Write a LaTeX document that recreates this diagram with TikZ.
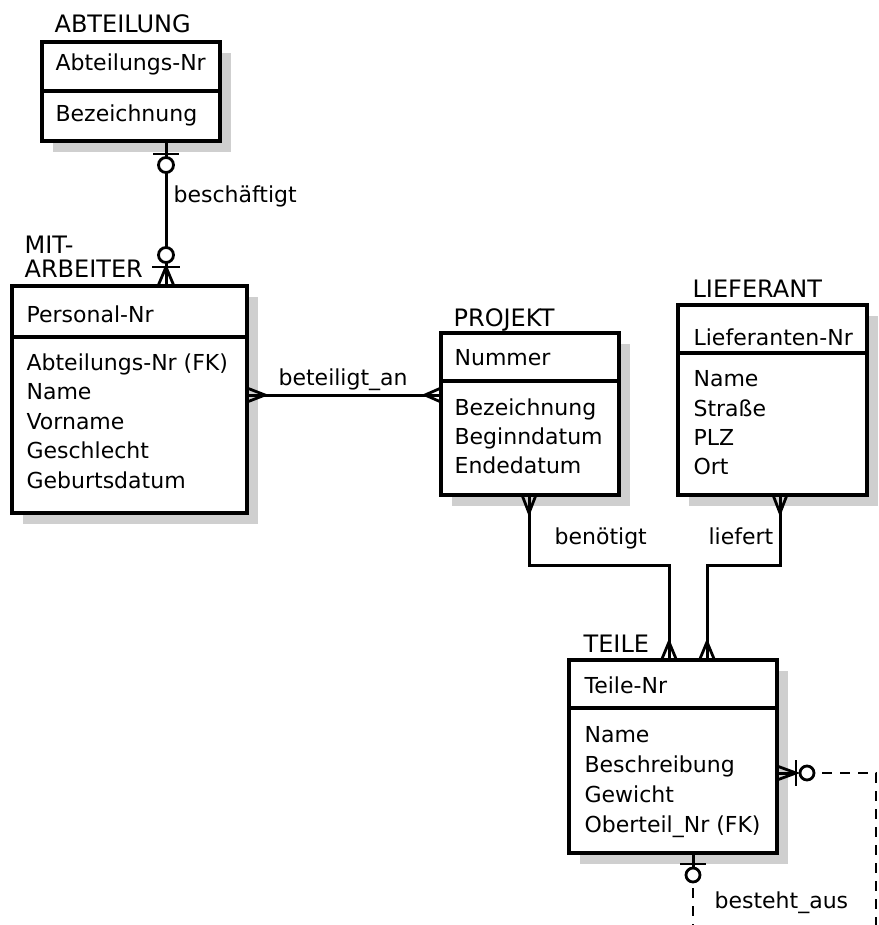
\documentclass[tikz,border=0pt]{standalone}
\usepackage{fontspec}
\setmainfont{DejaVu Sans}
\usetikzlibrary{calc,shadows}
\definecolor{shadowc}{gray}{0.81}
\begin{document}
\begin{tikzpicture}[x=1pt,y=-1pt,line width=3.2pt,
  ent/.style={draw,fill=white,inner sep=0pt,outer sep=0pt,anchor=north west,
    drop shadow={shadow xshift=11pt,shadow yshift=-11pt,fill=shadowc,opacity=1}},
  txt/.style={inner sep=0pt,anchor=base west,font=\fontsize{22}{26}\selectfont},
  ttl/.style={inner sep=0pt,anchor=base west,font=\fontsize{24}{26}\selectfont},
  rel/.style={line width=3pt},
  crow/.style={line width=2.8pt},
  opt/.style={draw,fill=white,line width=2.8pt},
  dsh/.style={line width=2.8pt,dash pattern=on 10pt off 8pt}]
\useasboundingbox (0,0) rectangle (878,925);

% ABTEILUNG
\node[ent,minimum width=178pt,minimum height=99pt] (abt) at (42,42) {};
\draw ($(abt.north west)+(0,49)$) -- ($(abt.north east)+(0,49)$);
\node[ttl] (abtT) at (53,33) {ABTEILUNG};
\node[txt] (abtK) at (54,71) {Abteilungs-Nr};
\node[txt] (abtA) at (54,122) {Bezeichnung};

% MITARBEITER
\node[ent,minimum width=235pt,minimum height=227pt] (mit) at (12,286) {};
\draw ($(mit.north west)+(0,51)$) -- ($(mit.north east)+(0,51)$);
\node[ttl] (mitT1) at (23,253) {MIT-};
\node[ttl] (mitT2) at (23,277) {ARBEITER};
\node[txt] (mitK) at (25,322) {Personal-Nr};
\foreach \t/\yy [count=\i] in {Abteilungs-Nr (FK)/370,Name/399.5,Vorname/429,Geschlecht/458.5,Geburtsdatum/488}
  \node[txt] (mitA\i) at (25,\yy) {\t};

% PROJEKT
\node[ent,minimum width=178pt,minimum height=162pt] (proj) at (441,333) {};
\draw ($(proj.north west)+(0,48)$) -- ($(proj.north east)+(0,48)$);
\node[ttl] (projT) at (452,326) {PROJEKT};
\node[txt] (projK) at (453,365) {Nummer};
\foreach \t/\yy [count=\i] in {Bezeichnung/415,Beginndatum/444,Endedatum/473}
  \node[txt] (projA\i) at (453,\yy) {\t};

% LIEFERANT
\node[ent,minimum width=189pt,minimum height=190pt] (lief) at (678,305) {};
\draw ($(lief.north west)+(0,48)$) -- ($(lief.north east)+(0,48)$);
\node[ttl] (liefT) at (691,297) {LIEFERANT};
\node[txt] (liefK) at (692,345) {Lieferanten-Nr};
\foreach \t/\yy [count=\i] in {Name/386,Straße/416,PLZ/445,Ort/474}
  \node[txt] (liefA\i) at (692,\yy) {\t};

% TEILE
\node[ent,minimum width=208pt,minimum height=193pt] (teile) at (569,660) {};
\draw ($(teile.north west)+(0,48)$) -- ($(teile.north east)+(0,48)$);
\node[ttl] (teileT) at (582,652) {TEILE};
\node[txt] (teileK) at (583,693) {Teile-Nr};
\foreach \t/\yy [count=\i] in {Name/742,Beschreibung/772,Gewicht/802,Oberteil\_Nr (FK)/832}
  \node[txt] (teileA\i) at (583,\yy) {\t};

% beschaeftigt
\coordinate (b1) at ($(abt.south west)+(124,0)$);
\coordinate (b2) at (b1 |- mit.north);
\draw[rel] (b1) -- (b2);
\draw[crow] ($(b1)+(-13,13)$) -- ($(b1)+(13,13)$);
\draw[opt] ($(b1)+(0,24)$) circle[radius=7.5pt];
\draw[crow] ($(b2)+(-14,-19)$) -- ($(b2)+(14,-19)$);
\draw[opt] ($(b2)+(0,-31)$) circle[radius=7.5pt];
\draw[crow] ($(b2)+(-8,0)$) -- ($(b2)+(0,-19)$) -- ($(b2)+(8,0)$);
\node[txt] (lb1) at (172,203) {beschäftigt};

% beteiligt_an
\coordinate (c1) at ($(mit.north east)+(0,109)$);
\coordinate (c2) at (c1 -| proj.west);
\draw[rel] (c1) -- (c2);
\draw[crow] ($(c1)+(0,-7)$) -- ($(c1)+(18,0)$) -- ($(c1)+(0,7)$);
\draw[crow] ($(c2)+(0,-7)$) -- ($(c2)+(-16,0)$) -- ($(c2)+(0,7)$);
\node[txt] (lb2) at (277,385) {beteiligt\_an};

% benoetigt
\coordinate (d1) at ($(proj.south west)+(88,0)$);
\coordinate (d2) at ($(teile.north west)+(100,0)$);
\draw[rel] (d1) -- ++(0,70) -| (d2);
\draw[crow] ($(d1)+(-7,0)$) -- ($(d1)+(0,18)$) -- ($(d1)+(7,0)$);
\draw[crow] ($(d2)+(-7.5,0)$) -- ($(d2)+(0,-18)$) -- ($(d2)+(7.5,0)$);
\node[txt] (lb3) at (553,544) {benötigt};

% liefert
\coordinate (e1) at ($(lief.south west)+(102,0)$);
\coordinate (e2) at ($(teile.north west)+(138,0)$);
\draw[rel] (e1) -- ++(0,70) -| (e2);
\draw[crow] ($(e1)+(-7,0)$) -- ($(e1)+(0,18)$) -- ($(e1)+(7,0)$);
\draw[crow] ($(e2)+(-7.5,0)$) -- ($(e2)+(0,-18)$) -- ($(e2)+(7.5,0)$);
\node[txt] (lb4) at (707,544) {liefert};

% besteht_aus
\coordinate (f1) at ($(teile.south west)+(124,0)$);
\coordinate (f2) at ($(teile.north east)+(0,113)$);
\coordinate (g2) at (876,925);
\coordinate (g1) at (f1 |- g2);
\draw[rel] (f1) -- ($(f1)+(0,15)$);
\draw[crow] ($(f1)+(-13,11)$) -- ($(f1)+(13,11)$);
\draw[opt] ($(f1)+(0,22)$) circle[radius=7pt];
\draw[dsh] ($(f1)+(0,35)$) -- (g1);
\draw[rel] (f2) -- ($(f2)+(19,0)$);
\draw[crow] ($(f2)+(0,-7)$) -- ($(f2)+(19,0)$) -- ($(f2)+(0,7)$);
\draw[crow] ($(f2)+(19,-13)$) -- ($(f2)+(19,13)$);
\draw[opt] ($(f2)+(30,0)$) circle[radius=7pt];
\draw[dsh] ($(f2)+(45,0)$) -- (f2 -| g2) -- (g2);
\node[txt] (lb5) at (713,908) {besteht\_aus};
\end{tikzpicture}
\end{document}
